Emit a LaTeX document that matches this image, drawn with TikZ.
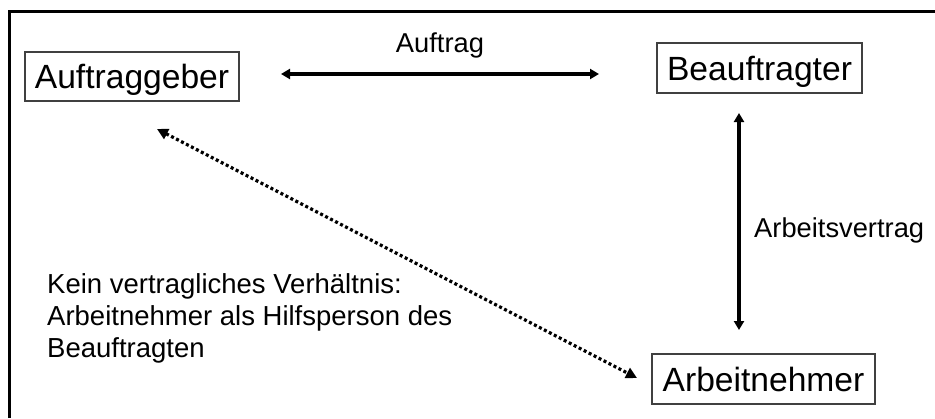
\documentclass[tikz,border=0pt]{standalone}
\usepackage{fontspec}
\setmainfont{Liberation Sans}
\usetikzlibrary{arrows.meta}
\begin{document}
\begin{tikzpicture}[x=1pt,y=-1pt,
  party/.style={draw=black!75,line width=1.3pt,inner sep=0pt,
    font=\fontsize{33.6}{38}\selectfont,text height=24pt,text depth=0pt},
  lbl/.style={font=\fontsize{27.3}{32}\selectfont,inner sep=0pt},
  rel/.style={line width=3.2pt,{Triangle[length=9pt,width=10pt]}-{Triangle[length=9pt,width=10pt]}},
  norel/.style={line width=3.2pt,dash pattern=on 3pt off 2.6pt,{Triangle[length=11pt,width=11pt]}-{Triangle[length=11pt,width=11pt]}}]
\useasboundingbox (0,0) rectangle (935,418);
\draw[line width=3pt] (9,418) -- (9,11) -- (935,11);

\node[party,minimum width=214pt,minimum height=49pt] (ag) at (132,76.5) {Auftraggeber};
\node[party,minimum width=205pt,minimum height=50pt] (bt) at (759.5,68) {Beauftragter};
\node[party,minimum width=223pt,minimum height=50pt] (an) at (763.5,379) {Arbeitnehmer};

\coordinate (a1) at (281,74);
\coordinate (a2) at (599,74);
\coordinate (v1) at (739,113);
\coordinate (v2) at (739,330);
\coordinate (d1) at (157,129);
\coordinate (d2) at (637,378);

\draw[rel] (a1) -- (a2);
\draw[rel] (v1) -- (v2);
\draw[norel] (d1) -- (d2);

\node[lbl,anchor=base] (lauftrag) at (440,52) {Auftrag};
\node[lbl,anchor=base west] (lav) at (754,237) {Arbeitsvertrag};
\node[anchor=base west,inner sep=0pt,align=left,font=\fontsize{27.5}{32}\selectfont] (note) at (47,357)
  {Kein vertragliches Verhältnis:\\Arbeitnehmer als Hilfsperson des\\Beauftragten};
\end{tikzpicture}
\end{document}
